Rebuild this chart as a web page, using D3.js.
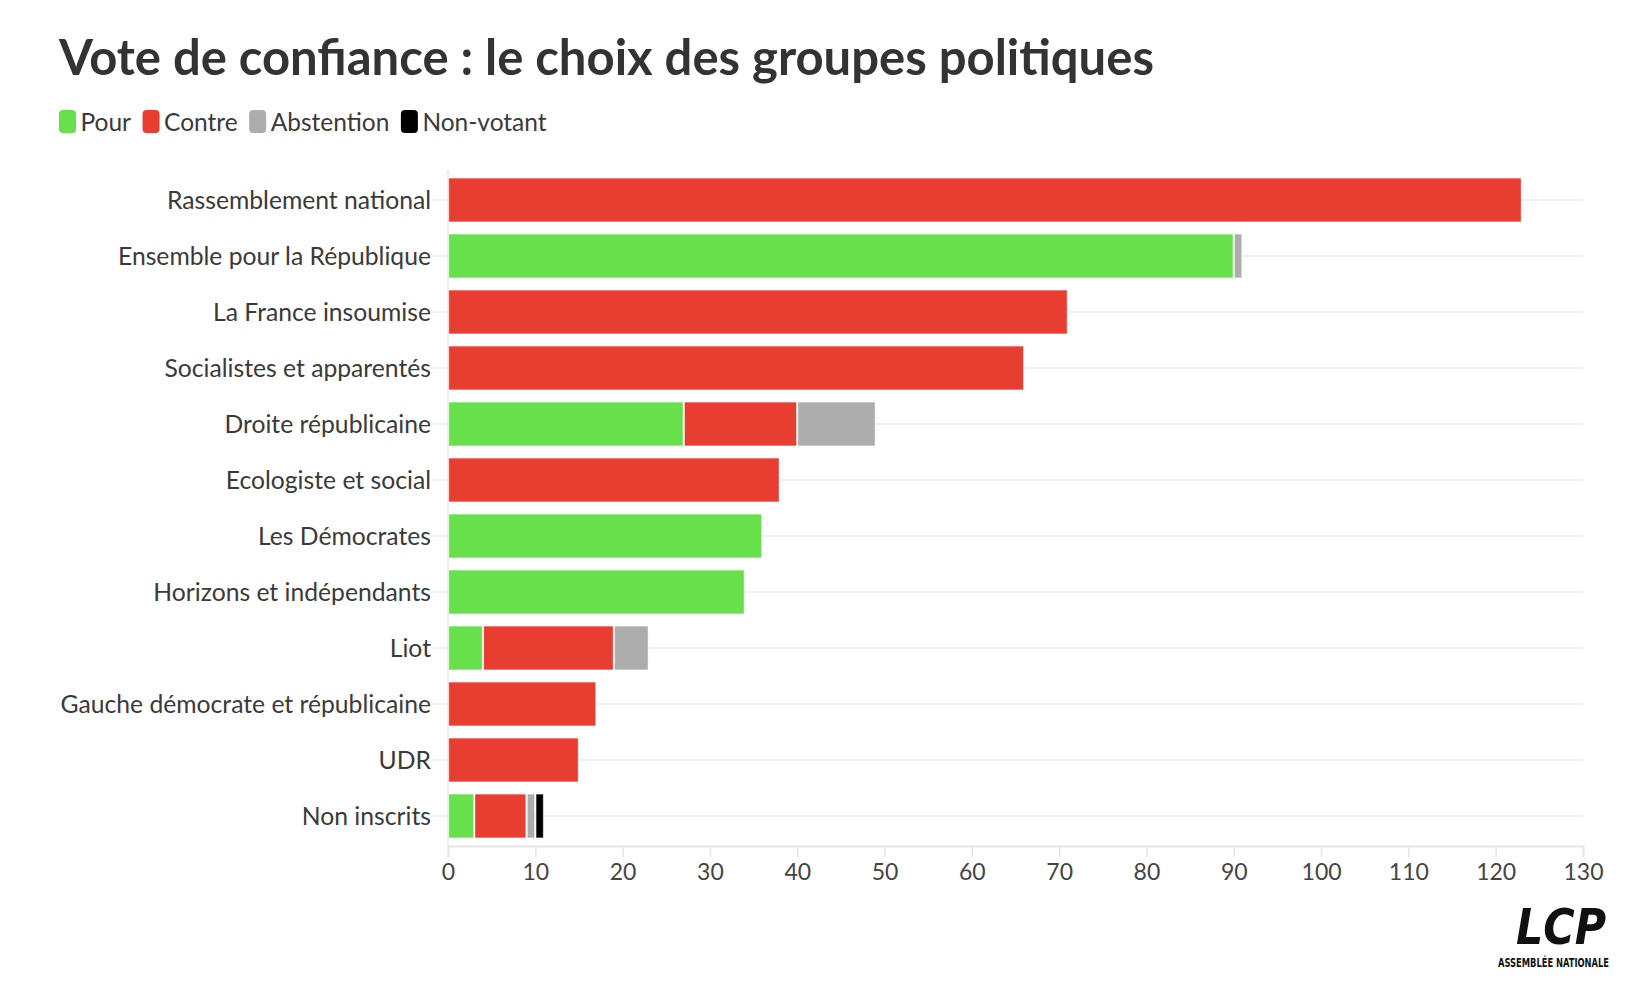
<!DOCTYPE html>
<html>
<head>
<meta charset="utf-8">
<script src="https://cdn.jsdelivr.net/npm/d3@7"></script>
<style>
  html, body { margin: 0; padding: 0; background: #fff; }
  svg { display: block; }
</style>
</head>
<body>
<svg id="chart" width="1648" height="1002"></svg>
<script>
// ---- Data ----
const title = "Vote de confiance : le choix des groupes politiques";
const categories = [
  "Rassemblement national",
  "Ensemble pour la République",
  "La France insoumise",
  "Socialistes et apparentés",
  "Droite républicaine",
  "Ecologiste et social",
  "Les Démocrates",
  "Horizons et indépendants",
  "Liot",
  "Gauche démocrate et républicaine",
  "UDR",
  "Non inscrits"
];
const pour       = [0, 90, 0, 0, 27, 0, 36, 34, 4, 0, 0, 3];
const contre     = [123, 0, 71, 66, 13, 38, 0, 0, 15, 17, 15, 6];
const abstention = [0, 1, 0, 0, 9, 0, 0, 0, 4, 0, 0, 1];
const nonVotant  = [0, 0, 0, 0, 0, 0, 0, 0, 0, 0, 0, 1];
const seriesNames = ["Pour", "Contre", "Abstention", "Non-votant"];
const seriesColors = ["#68e04b", "#e83d31", "#adadad", "#000000"];
const xTicks = [0, 10, 20, 30, 40, 50, 60, 70, 80, 90, 100, 110, 120, 130];

// ---- Build table ----
const seriesValues = [pour, contre, abstention, nonVotant];
const rows = categories.map((c, i) => {
  const r = { group: c };
  seriesNames.forEach((s, k) => r[s] = seriesValues[k][i]);
  return r;
});

const svg = d3.select("#chart");
const FONT = "Lato, 'Open Sans', sans-serif";

const x = d3.scaleLinear().domain([0, 130]).range([448, 1583]);
const y = d3.scaleBand().domain(categories).range([172, 844]).paddingInner(0.2).paddingOuter(0.1);

// Title
svg.append("text")
  .attr("x", 59).attr("y", 75)
  .attr("font-family", FONT).attr("font-weight", 700)
  .attr("font-size", 49).attr("fill", "#333")
  .text(title);

// Legend
const legend = svg.append("g");
let lx = 59;
seriesNames.forEach((s, k) => {
  legend.append("rect")
    .attr("x", lx).attr("y", 110).attr("width", 17).attr("height", 23)
    .attr("rx", 4).attr("fill", seriesColors[k]);
  const t = legend.append("text")
    .attr("x", lx + 21.5).attr("y", 130.5)
    .attr("font-family", FONT).attr("font-size", 24.5).attr("fill", "#3a3a3a")
    .text(s);
  lx = lx + 21.5 + t.node().getComputedTextLength() + 11.5;
});

// Gridlines
svg.append("g").selectAll("line").data(categories).join("line")
  .attr("x1", 433).attr("x2", 1583)
  .attr("y1", d => y(d) + y.bandwidth() / 2)
  .attr("y2", d => y(d) + y.bandwidth() / 2)
  .attr("stroke", "#ebebeb").attr("stroke-width", 1.6);

// Vertical axis line
svg.append("line")
  .attr("x1", x(0)).attr("x2", x(0)).attr("y1", 170).attr("y2", 846)
  .attr("stroke", "#ebebeb").attr("stroke-width", 1.6);

// Category labels
svg.append("g").selectAll("text").data(categories).join("text")
  .attr("x", 431)
  .attr("y", d => y(d) + y.bandwidth() / 2)
  .attr("dy", "0.36em")
  .attr("text-anchor", "end")
  .attr("font-family", FONT).attr("font-size", 24.7).attr("fill", "#3a3a3a")
  .text(d => d);

// Bars
const stack = d3.stack().keys(seriesNames)(rows);
svg.append("g").selectAll("g").data(stack).join("g")
  .attr("fill", (d, k) => seriesColors[k])
  .selectAll("rect").data(d => d.filter(p => p[1] - p[0] > 0)).join("rect")
  .attr("x", p => x(p[0]) + 0.75)
  .attr("width", p => Math.max(0, x(p[1]) - x(p[0]) - 1.5))
  .attr("y", p => y(p.data.group) + 0.5)
  .attr("height", y.bandwidth() - 1)
  .attr("stroke", "rgba(255,255,255,0.45)")
  .attr("stroke-width", 1);

// X axis
const xAxis = svg.append("g").attr("transform", "translate(0,846)")
  .call(d3.axisBottom(x).tickValues(xTicks).tickSize(11).tickPadding(7).tickFormat(d3.format("d")));
xAxis.select(".domain").attr("stroke", "#e6e6e6").attr("stroke-width", 2);
xAxis.selectAll(".tick line").attr("stroke", "#e6e6e6").attr("stroke-width", 1.6);
xAxis.selectAll(".tick text")
  .attr("font-family", FONT).attr("font-size", 23).attr("fill", "#444");

// Logo
svg.append("text")
  .attr("x", 1516).attr("y", 944)
  .attr("font-family", "'DejaVu Sans', sans-serif").attr("font-weight", 700)
  .attr("font-style", "italic").attr("font-stretch", "condensed")
  .attr("font-size", 50).attr("fill", "#111")
  .attr("textLength", 90).attr("lengthAdjust", "spacingAndGlyphs")
  .text("LCP");
svg.append("text")
  .attr("x", 1498).attr("y", 966.5)
  .attr("font-family", "'DejaVu Sans', sans-serif").attr("font-weight", 700)
  .attr("font-stretch", "condensed")
  .attr("font-size", 11.5).attr("fill", "#111")
  .attr("textLength", 111).attr("lengthAdjust", "spacingAndGlyphs")
  .text("ASSEMBLÉE NATIONALE");
</script>
</body>
</html>
